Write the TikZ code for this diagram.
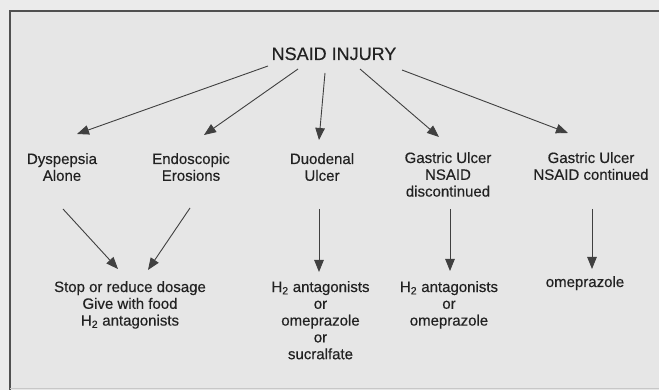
\documentclass[tikz,border=0pt]{standalone}
\usepackage{fontspec}
\setmainfont{Liberation Sans}[FakeBold=0.35]
\usetikzlibrary{arrows.meta,calc}
\definecolor{bgout}{HTML}{EBEBEB}
\definecolor{bgin}{HTML}{E6E6E6}
\definecolor{ink}{HTML}{222222}
\definecolor{lineink}{HTML}{404040}
\definecolor{frameink}{HTML}{505050}
\tikzset{
  lbl/.style={anchor=base, align=center, inner sep=0pt, text=ink,
    font=\fontsize{15}{16.8}\selectfont},
  ttl/.style={anchor=base, inner sep=0pt, text=ink,
    font=\fontsize{18}{20}\selectfont},
  arr/.style={draw=lineink, line width=0.9pt,
    -{Triangle[length=12pt,width=9.5pt]}},
}
\begin{document}
\begin{tikzpicture}[x=1pt,y=-1pt]
\useasboundingbox (0,0) rectangle (659,390);
\fill[bgout] (0,0) rectangle (659,390);
\fill[bgin] (10,11) rectangle (659,390);
\draw[frameink, line width=1.8pt] (10,391) -- (10,11) -- (660,11);
\draw[black!22, line width=0.8pt] (10,388.5) -- (659,388.5);

% base anchor = baseline of the last line
\node[ttl] (title) at (334,60) {NSAID INJURY};

\node[lbl] (dysp) at (62,180.8) {Dyspepsia\\Alone};
\node[lbl] (endo) at (191,180.8) {Endoscopic\\Erosions};
\node[lbl] (duod) at (322,180.8) {Duodenal\\Ulcer};
\node[lbl] (gdisc) at (448,196.6) {Gastric Ulcer\\NSAID\\discontinued};
\node[lbl] (gcont) at (591,179.8) {Gastric Ulcer\\NSAID continued};

\node[lbl] (stop) at (130,325.6) {Stop or reduce dosage\\Give with food\\H\textsubscript{2} antagonists};
\node[lbl] (hA) at (320.5,359.2) {H\textsubscript{2} antagonists\\or\\omeprazole\\or\\sucralfate};
\node[lbl] (hB) at (449,325.6) {H\textsubscript{2} antagonists\\or\\omeprazole};
\node[lbl] (omep) at (585,287) {omeprazole};

\draw[arr] ($(title.base)+(-66,6)$) -- ($(dysp.base)+(15,-46.8)$);
\draw[arr] ($(title.base)+(-36,9)$) -- ($(endo.base)+(13,-45.8)$);
\draw[arr] ($(title.base)+(-9,13)$) -- ($(duod.base)+(-3,-40.8)$);
\draw[arr] ($(title.base)+(26,9)$) -- ($(gdisc.base)+(-9,-59.6)$);
\draw[arr] ($(title.base)+(68,10)$) -- ($(gcont.base)+(-23,-46.8)$);

\draw[arr] ($(dysp.base)+(1,28.2)$) -- ($(stop.base)+(-12,-56.6)$);
\draw[arr] ($(endo.base)+(-1,27.2)$) -- ($(stop.base)+(18,-55.6)$);
\draw[arr] ($(duod.base)+(-3,28.2)$) -- ($(hA.base)+(-1.5,-87.2)$);
\draw[arr] ($(gdisc.base)+(2,12.4)$) -- ($(hB.base)+(1,-54.6)$);
\draw[arr] ($(gcont.base)+(1,29.2)$) -- ($(omep.base)+(7,-18)$);
\end{tikzpicture}
\end{document}
